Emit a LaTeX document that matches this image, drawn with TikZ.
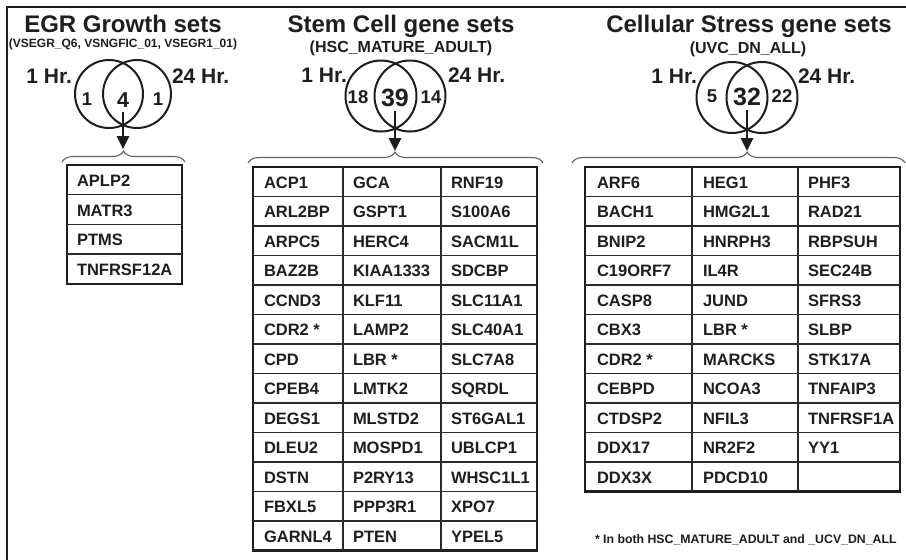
\documentclass[tikz,border=0pt]{standalone}
\usepackage{fontspec}
\setmainfont{Liberation Sans}
\usetikzlibrary{decorations.pathreplacing,arrows.meta}
\definecolor{ink}{HTML}{1E1E1E}
\definecolor{rule}{HTML}{2A2A2A}

\begin{document}
\begin{tikzpicture}[x=1pt,y=-1pt,
  every node/.style={inner sep=0pt, outer sep=0pt, text=ink},
  title/.style={font=\fontsize{24}{28}\selectfont\bfseries, anchor=base},
  subtitle/.style={font=\fontsize{16}{18}\selectfont\bfseries, anchor=base},
  hrl/.style={font=\fontsize{21}{24}\selectfont\bfseries, anchor=base east},
  hrr/.style={font=\fontsize{21}{24}\selectfont\bfseries, anchor=base west},
  cnt/.style={font=\fontsize{18.5}{20}\selectfont\bfseries, anchor=base},
  core/.style={font=\fontsize{25}{27}\selectfont\bfseries, anchor=base},
  gene/.style={font=\fontsize{16.5}{18}\selectfont\bfseries, anchor=base west},
  vennring/.style={circle, draw=ink, line width=2pt, minimum size=#1},
  tabouter/.style={draw=ink, line width=2.6pt},
  tabinner/.style={draw=rule, line width=1.4pt},
  bracket/.style={draw=ink!70, line width=1.1pt, decorate,
    decoration={brace, amplitude=11pt, aspect=#1}},
  down/.style={draw=ink, line width=2.6pt, -{Triangle[length=13pt,width=12pt]}},
  frameline/.style={draw=ink, line width=1.6pt}]

\useasboundingbox (0,0) rectangle (906,560);
\fill[white] (0,0) rectangle (906,560);

% panel frame
\coordinate (fr1) at (906,7);
\coordinate (fr2) at (7,7);
\coordinate (fr3) at (7,560);
\draw[frameline] (fr1) -- (fr2) -- (fr3);

% ---------------- EGR growth sets ----------------
\node[title] (egrT) at (123,32) {EGR Growth sets};
\node[subtitle, font=\fontsize{12}{14}\selectfont\bfseries] (egrS) at (123,47.5) {(VSEGR\_Q6, VSNGFIC\_01, VSEGR1\_01)};
\node[vennring=68pt] (egrA) at (109,94) {};
\node[vennring=68pt] (egrB) at (137,94) {};
\node[hrl] (egrH1) at (72,83) {1 Hr.};
\node[hrr] (egrH2) at (172,83) {24 Hr.};
\node[cnt, font=\fontsize{18.5}{20}\selectfont\bfseries] (egrN1) at (87,105.5) {1};
\node[core, font=\fontsize{21.5}{23}\selectfont\bfseries] (egrN) at (123,107) {4};
\node[cnt, font=\fontsize{18.5}{20}\selectfont\bfseries] (egrN2) at (158,105.5) {1};
\coordinate (egrL) at (62,162);
\coordinate (egrR) at (185,162);
\coordinate (egrTip) at (123,149);
\draw[bracket=0.5] (egrL) -- (egrR);
\draw[down] ([yshift=-5pt]egrN.south) -- (egrTip);

\draw[tabouter] (67,165) rectangle (182,283.8);
\foreach \k in {1,2,3}
  \draw[tabinner] (67,{165+\k*29.7}) -- (182,{165+\k*29.7});
\foreach \g [count=\r] in {APLP2,MATR3,PTMS,TNFRSF12A}
  \node[gene] (egr-\r) at (77,{165+(\r-1)*29.7+21.5}) {\g};

% ---------------- Stem cell gene sets ----------------
\node[title] (stT) at (401,32) {Stem Cell gene sets};
\node[subtitle] (stS) at (401,52.5) {(HSC\_MATURE\_ADULT)};
\node[vennring=71pt] (stA) at (381,96) {};
\node[vennring=71pt] (stB) at (410,96) {};
\node[hrl] (stH1) at (347,82) {1 Hr.};
\node[hrr] (stH2) at (448,82) {24 Hr.};
\node[cnt] (stN1) at (358,103) {18};
\node[core] (stN) at (395,106) {39};
\node[cnt] (stN2) at (431,103) {14};
\coordinate (stL) at (248,163);
\coordinate (stR) at (543,163);
\coordinate (stTip) at (395,151);
\draw[bracket=0.498] (stL) -- (stR);
\draw[down] ([yshift=-5pt]stN.south) -- (stTip);

\draw[tabouter] (253,167) rectangle (537,550.5);
\foreach \xx in {343,441}
  \draw[tabinner] (\xx,167) -- (\xx,550.5);
\foreach \k in {1,...,12}
  \draw[tabinner] (253,{167+\k*29.5}) -- (537,{167+\k*29.5});
\foreach \a/\b/\c [count=\r] in {
  ACP1/GCA/RNF19, ARL2BP/GSPT1/S100A6, ARPC5/HERC4/SACM1L,
  BAZ2B/KIAA1333/SDCBP, CCND3/KLF11/SLC11A1, CDR2 */LAMP2/SLC40A1,
  CPD/LBR */SLC7A8, CPEB4/LMTK2/SQRDL, DEGS1/MLSTD2/ST6GAL1,
  DLEU2/MOSPD1/UBLCP1, DSTN/P2RY13/WHSC1L1, FBXL5/PPP3R1/XPO7,
  GARNL4/PTEN/YPEL5} {
  \node[gene] (st-\r-1) at (264,{167+(\r-1)*29.5+21}) {\a};
  \node[gene] (st-\r-2) at (353,{167+(\r-1)*29.5+21}) {\b};
  \node[gene] (st-\r-3) at (451,{167+(\r-1)*29.5+21}) {\c};
}

% ---------------- Cellular stress gene sets ----------------
\node[title] (csT) at (749,32) {Cellular Stress gene sets};
\node[subtitle] (csS) at (748,53) {(UVC\_DN\_ALL)};
\node[vennring=71pt] (csA) at (732,97.5) {};
\node[vennring=71pt] (csB) at (762,97.5) {};
\node[hrl] (csH1) at (697,83) {1 Hr.};
\node[hrr] (csH2) at (798,83) {24 Hr.};
\node[cnt] (csN1) at (712,102) {5};
\node[core] (csN) at (747,105) {32};
\node[cnt] (csN2) at (782,102) {22};
\coordinate (csL) at (572,163);
\coordinate (csR) at (905,163);
\coordinate (csTip) at (747,151);
\draw[bracket=0.526] (csL) -- (csR);
\draw[down] ([yshift=-5pt]csN.south) -- (csTip);

\draw[tabouter] (585,167) rectangle (900,491.5);
\foreach \xx in {692,798}
  \draw[tabinner] (\xx,167) -- (\xx,491.5);
\foreach \k in {1,...,10}
  \draw[tabinner] (585,{167+\k*29.5}) -- (900,{167+\k*29.5});
\foreach \a/\b/\c [count=\r] in {
  ARF6/HEG1/PHF3, BACH1/HMG2L1/RAD21, BNIP2/HNRPH3/RBPSUH,
  C19ORF7/IL4R/SEC24B, CASP8/JUND/SFRS3, CBX3/LBR */SLBP,
  CDR2 */MARCKS/STK17A, CEBPD/NCOA3/TNFAIP3, CTDSP2/NFIL3/TNFRSF1A,
  DDX17/NR2F2/YY1, DDX3X/PDCD10/{}} {
  \node[gene] (cs-\r-1) at (597,{167+(\r-1)*29.5+21}) {\a};
  \node[gene] (cs-\r-2) at (703,{167+(\r-1)*29.5+21}) {\b};
  \node[gene] (cs-\r-3) at (808,{167+(\r-1)*29.5+21}) {\c};
}

\node[anchor=base west, font=\fontsize{12.3}{14}\selectfont\bfseries] (note) at (595,543)
  {* In both HSC\_MATURE\_ADULT and \_UCV\_DN\_ALL};

\end{tikzpicture}
\end{document}
